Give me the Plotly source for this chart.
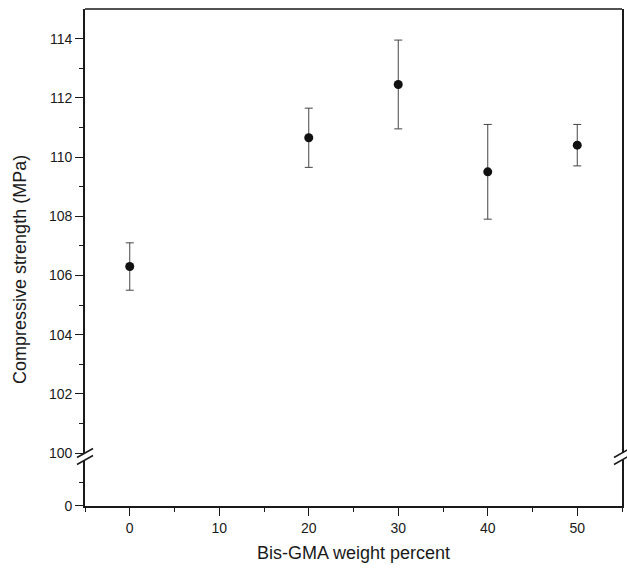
import plotly.graph_objects as go

# Data
bis_gma_wt = [0, 20, 30, 40, 50]
strength_mpa = [106.3, 110.65, 112.45, 109.5, 110.4]
strength_err = [0.8, 1.0, 1.5, 1.6, 0.7]

x_ticks = [0, 10, 20, 30, 40, 50]
y_top_ticks = [100, 102, 104, 106, 108, 110, 112, 114]
y_bottom_ticks = [0]

FONT = "Liberation Sans, Arial, sans-serif"
INK = "#1a1a1a"

fig = go.Figure()
fig.add_trace(go.Scatter(
    x=bis_gma_wt, y=strength_mpa, mode="markers",
    xaxis="x", yaxis="y2",
    marker=dict(size=9, color="#111111"),
    error_y=dict(type="data", array=strength_err, visible=True,
                 color="#444444", thickness=1, width=4),
    showlegend=False,
))
# empty trace so the lower (broken) segment subplot is created
fig.add_trace(go.Scatter(x=[None], y=[None], mode="markers", xaxis="x", yaxis="y",
                         showlegend=False, hoverinfo="skip"))

H_TOP_BOTTOM = 0.1066
H_BOT_TOP = 0.0926

fig.update_layout(
    width=627, height=572,
    margin=dict(l=85, r=3, t=9, b=66),
    paper_bgcolor="white", plot_bgcolor="white",
    font=dict(family=FONT, size=14, color=INK),
    xaxis=dict(
        range=[-5, 55], anchor="y", domain=[0, 1],
        tickvals=x_ticks, ticks="outside", ticklen=8, tickwidth=1.2, tickcolor=INK,
        minor=dict(tickvals=[-5, 5, 15, 25, 35, 45, 55], ticks="outside", ticklen=4,
                   tickwidth=1.2, tickcolor=INK),
        showline=True, linecolor=INK, linewidth=1.5,
        showgrid=False, zeroline=False,
        title=dict(text="Bis-GMA weight percent", font=dict(size=18), standoff=12),
        tickfont=dict(size=14),
    ),
    yaxis=dict(
        range=[0, 2], domain=[0, H_BOT_TOP], anchor="x",
        tickvals=y_bottom_ticks, ticks="outside", ticklen=8, tickwidth=1.2, tickcolor=INK,
        minor=dict(tickvals=[1], ticks="outside", ticklen=4, tickwidth=1.2, tickcolor=INK),
        showline=True, linecolor=INK, linewidth=1.8, mirror=True,
        showgrid=False, zeroline=False, tickfont=dict(size=14),
    ),
    yaxis2=dict(
        range=[100, 115], domain=[H_TOP_BOTTOM, 1], anchor="x",
        tickvals=y_top_ticks, ticks="outside", ticklen=8, tickwidth=1.2, tickcolor=INK,
        minor=dict(tickvals=[101, 103, 105, 107, 109, 111, 113], ticks="outside",
                   ticklen=4, tickwidth=1.2, tickcolor=INK),
        showline=True, linecolor=INK, linewidth=1.8, mirror=True,
        showgrid=False, zeroline=False, tickfont=dict(size=14),
    ),
)

# top border
fig.add_shape(type="line", xref="paper", yref="paper", x0=0, x1=1, y0=1, y1=1,
              line=dict(color=INK, width=1.5))

# axis break marks (left and right)
for xa in (0, 1):
    for ya in (H_TOP_BOTTOM, H_BOT_TOP):
        fig.add_shape(type="line", xref="paper", yref="paper",
                      xsizemode="pixel", xanchor=xa, x0=-8, x1=8,
                      ysizemode="pixel", yanchor=ya, y0=-4.5, y1=4.5,
                      line=dict(color=INK, width=1.5))

fig.add_annotation(
    text="Compressive strength (MPa)", textangle=-90,
    xref="paper", yref="paper", x=0, y=0.475, xanchor="center", yanchor="middle",
    xshift=-65, showarrow=False, font=dict(size=18, family=FONT, color=INK),
)

fig.write_html("out.html")
